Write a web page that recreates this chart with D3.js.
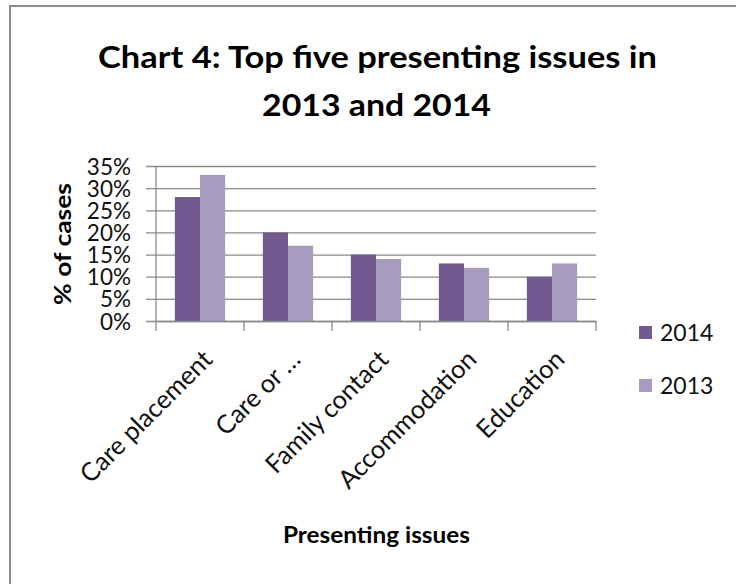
<!DOCTYPE html>
<html>
<head>
<meta charset="utf-8">
<script src="https://cdn.jsdelivr.net/npm/d3@7"></script>
<style>
  html, body { margin: 0; padding: 0; background: #fff; }
  svg { display: block; font-family: Lato, "Open Sans", sans-serif; }
</style>
</head>
<body>
<svg id="chart" width="736" height="584"></svg>
<script>
// Presenting issues, share of cases by year
const categories = ["Care placement", "Care or …", "Family contact", "Accommodation", "Education"];
const seriesNames = ["2014", "2013"];
const values2014 = [28, 20, 15, 13, 10];
const values2013 = [33, 17, 14, 12, 13];
const yTickValues = [0, 5, 10, 15, 20, 25, 30, 35];
const titleLines = ["Chart 4: Top five presenting issues in", "2013 and 2014"];
const yTitle = "% of cases";
const xTitle = "Presenting issues";

const colors = { "2014": "#715a8f", "2013": "#a89bc0" };
const gridColor = "#8a8a8a";

const svg = d3.select("#chart");

// Chart frame (top and left edges visible)
svg.append("line").attr("x1", 9).attr("x2", 736).attr("y1", 6).attr("y2", 6)
  .attr("stroke", "#8c8c8c").attr("stroke-width", 2);
svg.append("line").attr("x1", 10).attr("x2", 10).attr("y1", 5).attr("y2", 584)
  .attr("stroke", "#8c8c8c").attr("stroke-width", 2);

// Plot area
const plot = { left: 156, right: 596, top: 166, bottom: 321 };

const x = d3.scaleBand().domain(categories).range([plot.left, plot.right]).paddingInner(0).paddingOuter(0);
const xInner = d3.scaleBand().domain(seriesNames).range([0, x.bandwidth()]).paddingInner(0).paddingOuter(0.75);
const y = d3.scaleLinear().domain([0, 35]).range([plot.bottom, plot.top]);

// Gridlines + y tick labels
const yAxis = d3.axisLeft(y)
  .tickValues(yTickValues)
  .tickFormat(d => d + "%")
  .tickSizeInner(-(plot.right - plot.left + 10))
  .tickSizeOuter(0)
  .tickPadding(15);

const gy = svg.append("g").attr("transform", `translate(${plot.left - 10},0)`).call(yAxis);
gy.select(".domain").remove();
gy.selectAll(".tick line").attr("stroke", gridColor).attr("stroke-width", 1.3);
gy.selectAll(".tick text")
  .attr("fill", "#111")
  .attr("font-size", 22.5)
  .attr("font-family", "Lato, sans-serif")
  .attr("dy", "0.36em");

// Vertical axis line
svg.append("line")
  .attr("x1", plot.left).attr("x2", plot.left)
  .attr("y1", plot.top).attr("y2", plot.bottom)
  .attr("stroke", gridColor).attr("stroke-width", 1.3);

// Bars
const rows = categories.map((c, i) => ({ cat: c, vals: { "2014": values2014[i], "2013": values2013[i] } }));
const groups = svg.append("g").selectAll("g").data(rows).join("g")
  .attr("transform", d => `translate(${x(d.cat)},0)`);
groups.selectAll("rect")
  .data(d => seriesNames.map(s => ({ s, v: d.vals[s] })))
  .join("rect")
  .attr("x", d => xInner(d.s))
  .attr("width", xInner.bandwidth())
  .attr("y", d => y(d.v))
  .attr("height", d => y(0) - y(d.v))
  .attr("fill", d => colors[d.s]);

// Category axis: baseline and boundary ticks
const xAxis = d3.axisBottom(x).tickSize(0).tickFormat("");
const gx = svg.append("g").attr("transform", `translate(0,${plot.bottom})`).call(xAxis);
gx.select(".domain").attr("stroke", gridColor).attr("stroke-width", 1.3);
const boundaries = categories.map(c => x(c)).concat([x(categories[categories.length - 1]) + x.bandwidth()]);
svg.append("g").selectAll("line").data(boundaries).join("line")
  .attr("x1", d => d).attr("x2", d => d)
  .attr("y1", plot.bottom).attr("y2", plot.bottom + 10)
  .attr("stroke", gridColor).attr("stroke-width", 1.3);

// Rotated category labels
svg.append("g").selectAll("text").data(categories).join("text")
  .attr("transform", d => `translate(${x(d) + x.bandwidth() / 2 + 14},${plot.bottom + 40}) rotate(-45)`)
  .attr("text-anchor", "end")
  .attr("font-size", 25.5)
  .attr("fill", "#111")
  .text(d => d);

// Title
const title = svg.append("g").attr("font-weight", 700).attr("fill", "#000").attr("text-anchor", "middle");
title.append("text").attr("x", 377.5).attr("y", 68).attr("font-size", 31)
  .attr("textLength", 559).attr("lengthAdjust", "spacingAndGlyphs").text(titleLines[0]);
title.append("text").attr("x", 376.5).attr("y", 116).attr("font-size", 31)
  .attr("textLength", 229).attr("lengthAdjust", "spacingAndGlyphs").text(titleLines[1]);

// Axis titles
svg.append("text")
  .attr("transform", `translate(71,244) rotate(-90)`)
  .attr("text-anchor", "middle").attr("font-weight", 700).attr("font-size", 23)
  .attr("textLength", 122).attr("lengthAdjust", "spacingAndGlyphs")
  .attr("fill", "#000").text(yTitle);
svg.append("text")
  .attr("x", 376.5).attr("y", 543)
  .attr("text-anchor", "middle").attr("font-weight", 700).attr("font-size", 23)
  .attr("textLength", 187).attr("lengthAdjust", "spacingAndGlyphs")
  .attr("fill", "#000").text(xTitle);

// Legend
const legend = svg.append("g").selectAll("g").data(seriesNames).join("g")
  .attr("transform", (d, i) => `translate(639,${326 + i * 53})`);
legend.append("rect").attr("width", 13).attr("height", 13).attr("fill", d => colors[d]);
legend.append("text").attr("x", 21).attr("y", 15).attr("font-size", 23)
  .attr("fill", "#111").text(d => d);
</script>
</body>
</html>
